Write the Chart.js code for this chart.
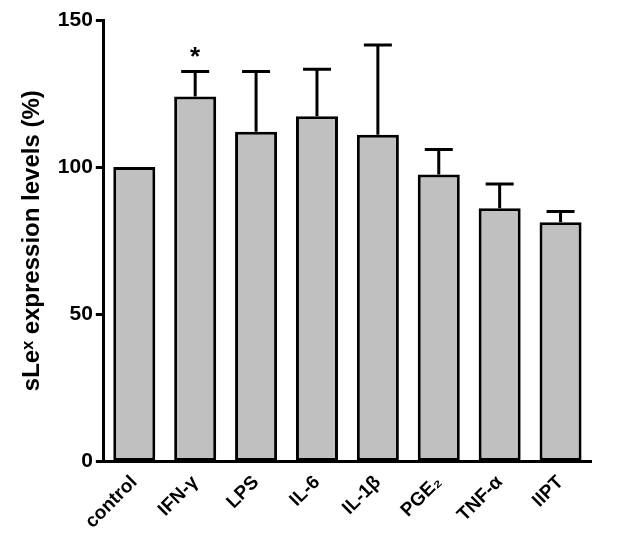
<!DOCTYPE html>
<html>
<head>
<meta charset="utf-8">
<script src="https://cdn.jsdelivr.net/npm/chart.js@4/dist/chart.umd.min.js"></script>
<style>
  html, body { margin: 0; padding: 0; background: #fff; }
  #wrap { width: 629px; height: 547px; }
</style>
</head>
<body>
<div id="wrap"><canvas id="c" width="629" height="547"></canvas></div>
<script>
// datos
const categories = ['control', 'IFN-γ', 'LPS', 'IL-6', 'IL-1β', 'PGE₂', 'TNF-α', 'IIPT'];
const means      = [100, 124, 112, 117.3, 111, 97.5, 86, 81.3];
const errorsUp   = [0, 8.5, 20.5, 16, 30.5, 8.5, 8.3, 3.6];
const marks      = ['', '*', '', '', '', '', '', ''];
const yTicks     = [0, 50, 100, 150];

const FONT = "'Liberation Sans', Arial, 'DejaVu Sans', sans-serif";

// barras de error (solo hacia arriba) + asteriscos
const errorBars = {
    id: 'errorBars',
    afterDatasetsDraw(chart) {
        const { ctx } = chart;
        const y = chart.scales.y;
        const meta = chart.getDatasetMeta(0);
        ctx.save();
        ctx.strokeStyle = '#000';
        ctx.lineWidth = 3;
        ctx.lineCap = 'butt';
        meta.data.forEach((bar, i) => {
            const top = y.getPixelForValue(means[i] + errorsUp[i]);
            if (errorsUp[i] > 0) {
                const half = 14;
                ctx.beginPath();
                ctx.moveTo(bar.x, bar.y);
                ctx.lineTo(bar.x, top);
                ctx.moveTo(bar.x - half, top);
                ctx.lineTo(bar.x + half, top);
                ctx.stroke();
            }
            if (marks[i]) {
                ctx.fillStyle = '#000';
                ctx.font = `bold 26px ${FONT}`;
                ctx.textAlign = 'center';
                ctx.textBaseline = 'middle';
                ctx.fillText(marks[i], bar.x, top - 14);
            }
        });
        ctx.restore();
    }
};

new Chart(document.getElementById('c').getContext('2d'), {
    type: 'bar',
    data: {
        labels: categories,
        datasets: [{
            data: means,
            backgroundColor: '#c0c0c0',
            borderColor: '#000',
            borderWidth: 3,
            borderSkipped: false,
            categoryPercentage: 1,
            barPercentage: 0.69,
        }],
    },
    options: {
        responsive: false,
        animation: false,
        layout: { padding: { top: 20, right: 38, left: 18, bottom: 12 } },
        plugins: {
            legend: { display: false },
            tooltip: { enabled: false },
        },
        scales: {
            x: {
                grid: { display: false },
                border: { display: true, color: '#000', width: 3 },
                ticks: {
                    color: '#000',
                    font: { family: FONT, size: 19, weight: 'bold' },
                    maxRotation: 45,
                    minRotation: 45,
                    padding: 2,
                },
            },
            y: {
                min: 0,
                max: 150,
                afterBuildTicks: (axis) => { axis.ticks = yTicks.map(v => ({ value: v })); },
                grid: {
                    drawOnChartArea: false,
                    drawTicks: true,
                    tickLength: 8,
                    tickWidth: 3,
                    color: '#000',
                },
                border: { display: true, color: '#000', width: 3 },
                ticks: {
                    color: '#000',
                    font: { family: FONT, size: 21, weight: 'bold' },
                    padding: 3,
                },
                title: {
                    display: true,
                    text: 'sLeˣ expression levels (%)',
                    color: '#000',
                    font: { family: FONT, size: 24, weight: 'bold' },
                    padding: { top: 0, bottom: 8 },
                },
            },
        },
    },
    plugins: [errorBars],
});
</script>
</body>
</html>
